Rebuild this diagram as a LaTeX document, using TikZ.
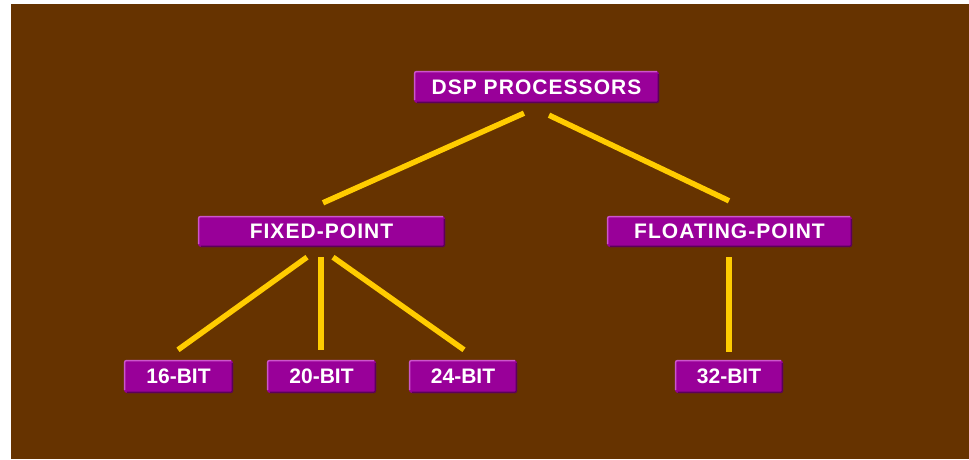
\documentclass[tikz,border=0pt]{standalone}
\usepackage{fontspec}
\usetikzlibrary{calc}
\newfontfamily\lblwide{Liberation Sans}[LetterSpace=5]
\newfontfamily\lblnarrow{Liberation Sans}
\definecolor{bgbrown}{HTML}{663300}
\definecolor{boxpurple}{HTML}{990099}
\definecolor{linegold}{HTML}{FFCC00}
\definecolor{hlpurple}{HTML}{CC55CC}
\definecolor{shpurple}{HTML}{5A005A}
\tikzset{
  box/.style={fill=boxpurple, rounded corners=3pt, inner sep=0pt, text=white,
    font=\lblwide\bfseries\fontsize{21}{21}\selectfont},
  bitbox/.style={box, font=\lblnarrow\bfseries\fontsize{21}{21}\selectfont},
  link/.style={draw=linegold, line width=5.5pt},
  hl/.style={draw=hlpurple, line width=1.5pt, rounded corners=2pt},
  sh/.style={draw=shpurple, line width=1.5pt, rounded corners=2pt}
}
\begin{document}
\begin{tikzpicture}[x=1pt,y=-1pt]
\useasboundingbox (0,0) rectangle (969,459);
\fill[white] (0,0) rectangle (969,459);
\fill[bgbrown] (11,4) rectangle (969,459);

\node[box, minimum width=245, minimum height=32] (dsp) at (536.5,87) {DSP PROCESSORS};
\node[box, minimum width=247, minimum height=31] (fixed) at (321.5,231.5) {FIXED-POINT};
\node[box, minimum width=245, minimum height=31] (flt) at (729.5,231.5) {FLOATING-POINT};
\node[bitbox, minimum width=109, minimum height=33] (b16) at (178.5,376.5) {16-BIT};
\node[bitbox, minimum width=109, minimum height=33] (b20) at (321.5,376.5) {20-BIT};
\node[bitbox, minimum width=108, minimum height=33] (b24) at (463,376.5) {24-BIT};
\node[bitbox, minimum width=108, minimum height=33] (b32) at (729,376.5) {32-BIT};

\foreach \n in {dsp,fixed,flt,b16,b20,b24,b32}{
  \draw[hl] ([shift={(0.75,-3)}]\n.south west) -- ([shift={(0.75,0.75)}]\n.north west) -- ([shift={(-2,0.75)}]\n.north east);
  \draw[sh] ([shift={(3,-0.75)}]\n.south west) -- ([shift={(-0.75,-0.75)}]\n.south east) -- ([shift={(-0.75,3)}]\n.north east);
}

\draw[link] ($(dsp.south)+(-12.5,10)$) -- ($(fixed.north)+(1.5,-13)$);
\draw[link] ($(dsp.south)+(12.5,12)$) -- ($(flt.north)+(-0.5,-15)$);
\draw[link] ($(fixed.south)+(-14.5,10)$) -- ($(b16.north)+(-0.5,-10)$);
\draw[link] ($(fixed.south)+(-0.5,10)$) -- ($(b20.north)+(-0.5,-10)$);
\draw[link] ($(fixed.south)+(11.5,10)$) -- ($(b24.north)+(1,-10)$);
\draw[link] ($(flt.south)+(-0.5,10)$) -- ($(b32.north)+(0,-8)$);
\end{tikzpicture}
\end{document}
